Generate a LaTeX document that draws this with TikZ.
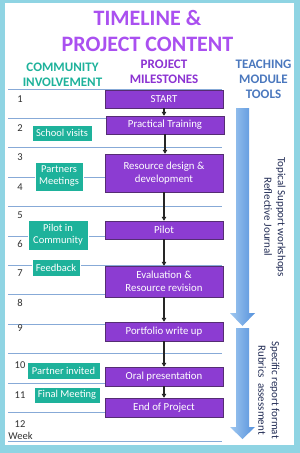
\documentclass[tikz,border=0pt]{standalone}
\usepackage{fontspec}
\setmainfont{Carlito}
\usepackage{xcolor}
\definecolor{FrameCyan}{RGB}{143, 212, 227}
\definecolor{TitlePurple}{RGB}{170, 80, 240}
\definecolor{MileHead}{RGB}{140, 50, 210}
\definecolor{MilePurple}{RGB}{140, 60, 210}
\definecolor{MileEdge}{RGB}{85, 45, 115}
\definecolor{InvTeal}{RGB}{30, 178, 155}
\definecolor{ToolBlue}{RGB}{75, 120, 190}
\definecolor{ToolNavy}{RGB}{35, 45, 85}
\definecolor{LineBlue}{RGB}{135, 170, 215}
\definecolor{NumGray}{RGB}{50, 50, 50}
\definecolor{ArrowLight}{RGB}{160, 200, 240}
\definecolor{ArrowDark}{RGB}{85, 145, 220}
\usetikzlibrary{arrows.meta}

\begin{document}
\begin{tikzpicture}[x=1pt, y=-1pt,
    milestone/.style={rectangle, draw=MileEdge, fill=MilePurple, text=white, minimum width=118pt,
        inner sep=0pt, align=center, font=\fontsize{10.8}{12.5}\selectfont},
    involve/.style={rectangle, draw=white, fill=InvTeal, text=white,
        inner sep=0pt, align=center, font=\fontsize{10.5}{12}\selectfont},
    link/.style={-{Triangle[length=4pt, width=4.5pt]}, line width=1.2pt, black!85},
    weekline/.style={draw=LineBlue, line width=0.8pt},
    weeknum/.style={text=NumGray, font=\fontsize{10.5}{11}\selectfont},
    header/.style={align=center, font=\bfseries\fontsize{13}{15}\selectfont},
    tooltext/.style={rotate=-90, align=center, text=ToolNavy, font=\fontsize{11}{13.5}\selectfont}
]
\useasboundingbox (0,0) rectangle (300,453);

% Frame
\fill[FrameCyan] (0,0) rectangle (300,453);
\fill[white] (5,3) rectangle (294,445);

% Title and column headers
\node[text=TitlePurple, font=\bfseries\fontsize{22}{25}\selectfont] (title1) at (147.5,18) {TIMELINE \&};
\node[text=TitlePurple, font=\bfseries\fontsize{22}{25}\selectfont] (title2) at (147.5,44) {PROJECT CONTENT};
\node[header, text=InvTeal] (hcomm) at (62.5,75) {COMMUNITY\\INVOLVEMENT};
\node[header, text=MileHead] (hmile) at (164,71.5) {PROJECT\\MILESTONES};
\node[header, text=ToolBlue] (htool) at (263.5,79) {TEACHING\\MODULE\\TOOLS};

% Week grid
\foreach \i in {0,...,12}
    \draw[weekline] (8,89+29.4*\i) -- (222,89+29.4*\i);
\foreach \w/\y in {1/99,2/128,3/157,4/187,5/215,6/244,7/273,8/303,9/328,10/365,11/395,12/424}
    \node[weeknum] (wk\w) at (20,\y) {\w};
\node[weeknum] (wklabel) at (20.5,436) {Week};

% Project milestones
\node[milestone, minimum height=18pt] (start) at (164,99) {START};
\node[milestone, minimum height=18pt] (training) at (165,125) {Practical Training};
\node[milestone, minimum height=38pt] (design) at (164,173) {Resource design \&\\development};
\node[milestone, minimum height=18pt] (pilot) at (164,230) {Pilot};
\node[milestone, minimum height=31pt] (eval) at (164,281.5) {Evaluation \&\\Resource revision};
\node[milestone, minimum height=19pt] (portfolio) at (164,331.5) {Portfolio write up};
\node[milestone, minimum height=19pt] (oral) at (164,376.5) {Oral presentation};
\node[milestone, minimum height=19pt] (finish) at (164,407.5) {End of Project};

\foreach \a/\b in {start/training, training/design, design/pilot, pilot/eval,
                   eval/portfolio, portfolio/oral, oral/finish}
    \draw[link] (\a.south) -- (\a.south |- \b.north);

% Community involvement
\node[involve, minimum width=60pt, minimum height=16pt] (visits) at (62,133) {School visits};
\node[involve, minimum width=48pt, minimum height=29pt] (partners) at (59,176.5) {Partners\\Meetings};
\node[involve, minimum width=60pt, minimum height=30pt] (pilotcomm) at (58,235) {Pilot in\\Community};
\node[involve, minimum width=48pt, minimum height=17pt] (feedback) at (56,267.5) {Feedback};
\node[involve, minimum width=73pt, minimum height=17pt] (invited) at (63.5,370.5) {Partner invited};
\node[involve, minimum width=66pt, minimum height=16pt] (meeting) at (67,395) {Final Meeting};

% Teaching module tools
\shade[left color=ArrowLight, right color=ArrowDark]
    (236,108) -- (249,108) -- (249,313) -- (255,313) -- (242.5,326) -- (230,313) -- (236,313) -- cycle;
\shade[left color=ArrowLight, right color=ArrowDark]
    (236,328) -- (249,328) -- (249,427) -- (255,427) -- (242.5,439) -- (230,427) -- (236,427) -- cycle;
\node[tooltext] (tool1) at (275,217) {Topical Support workshops\\Reflective Journal};
\node[tooltext] (tool2) at (269,390) {Specific report format\\Rubrics\ \ assessment};

\end{tikzpicture}
\end{document}
